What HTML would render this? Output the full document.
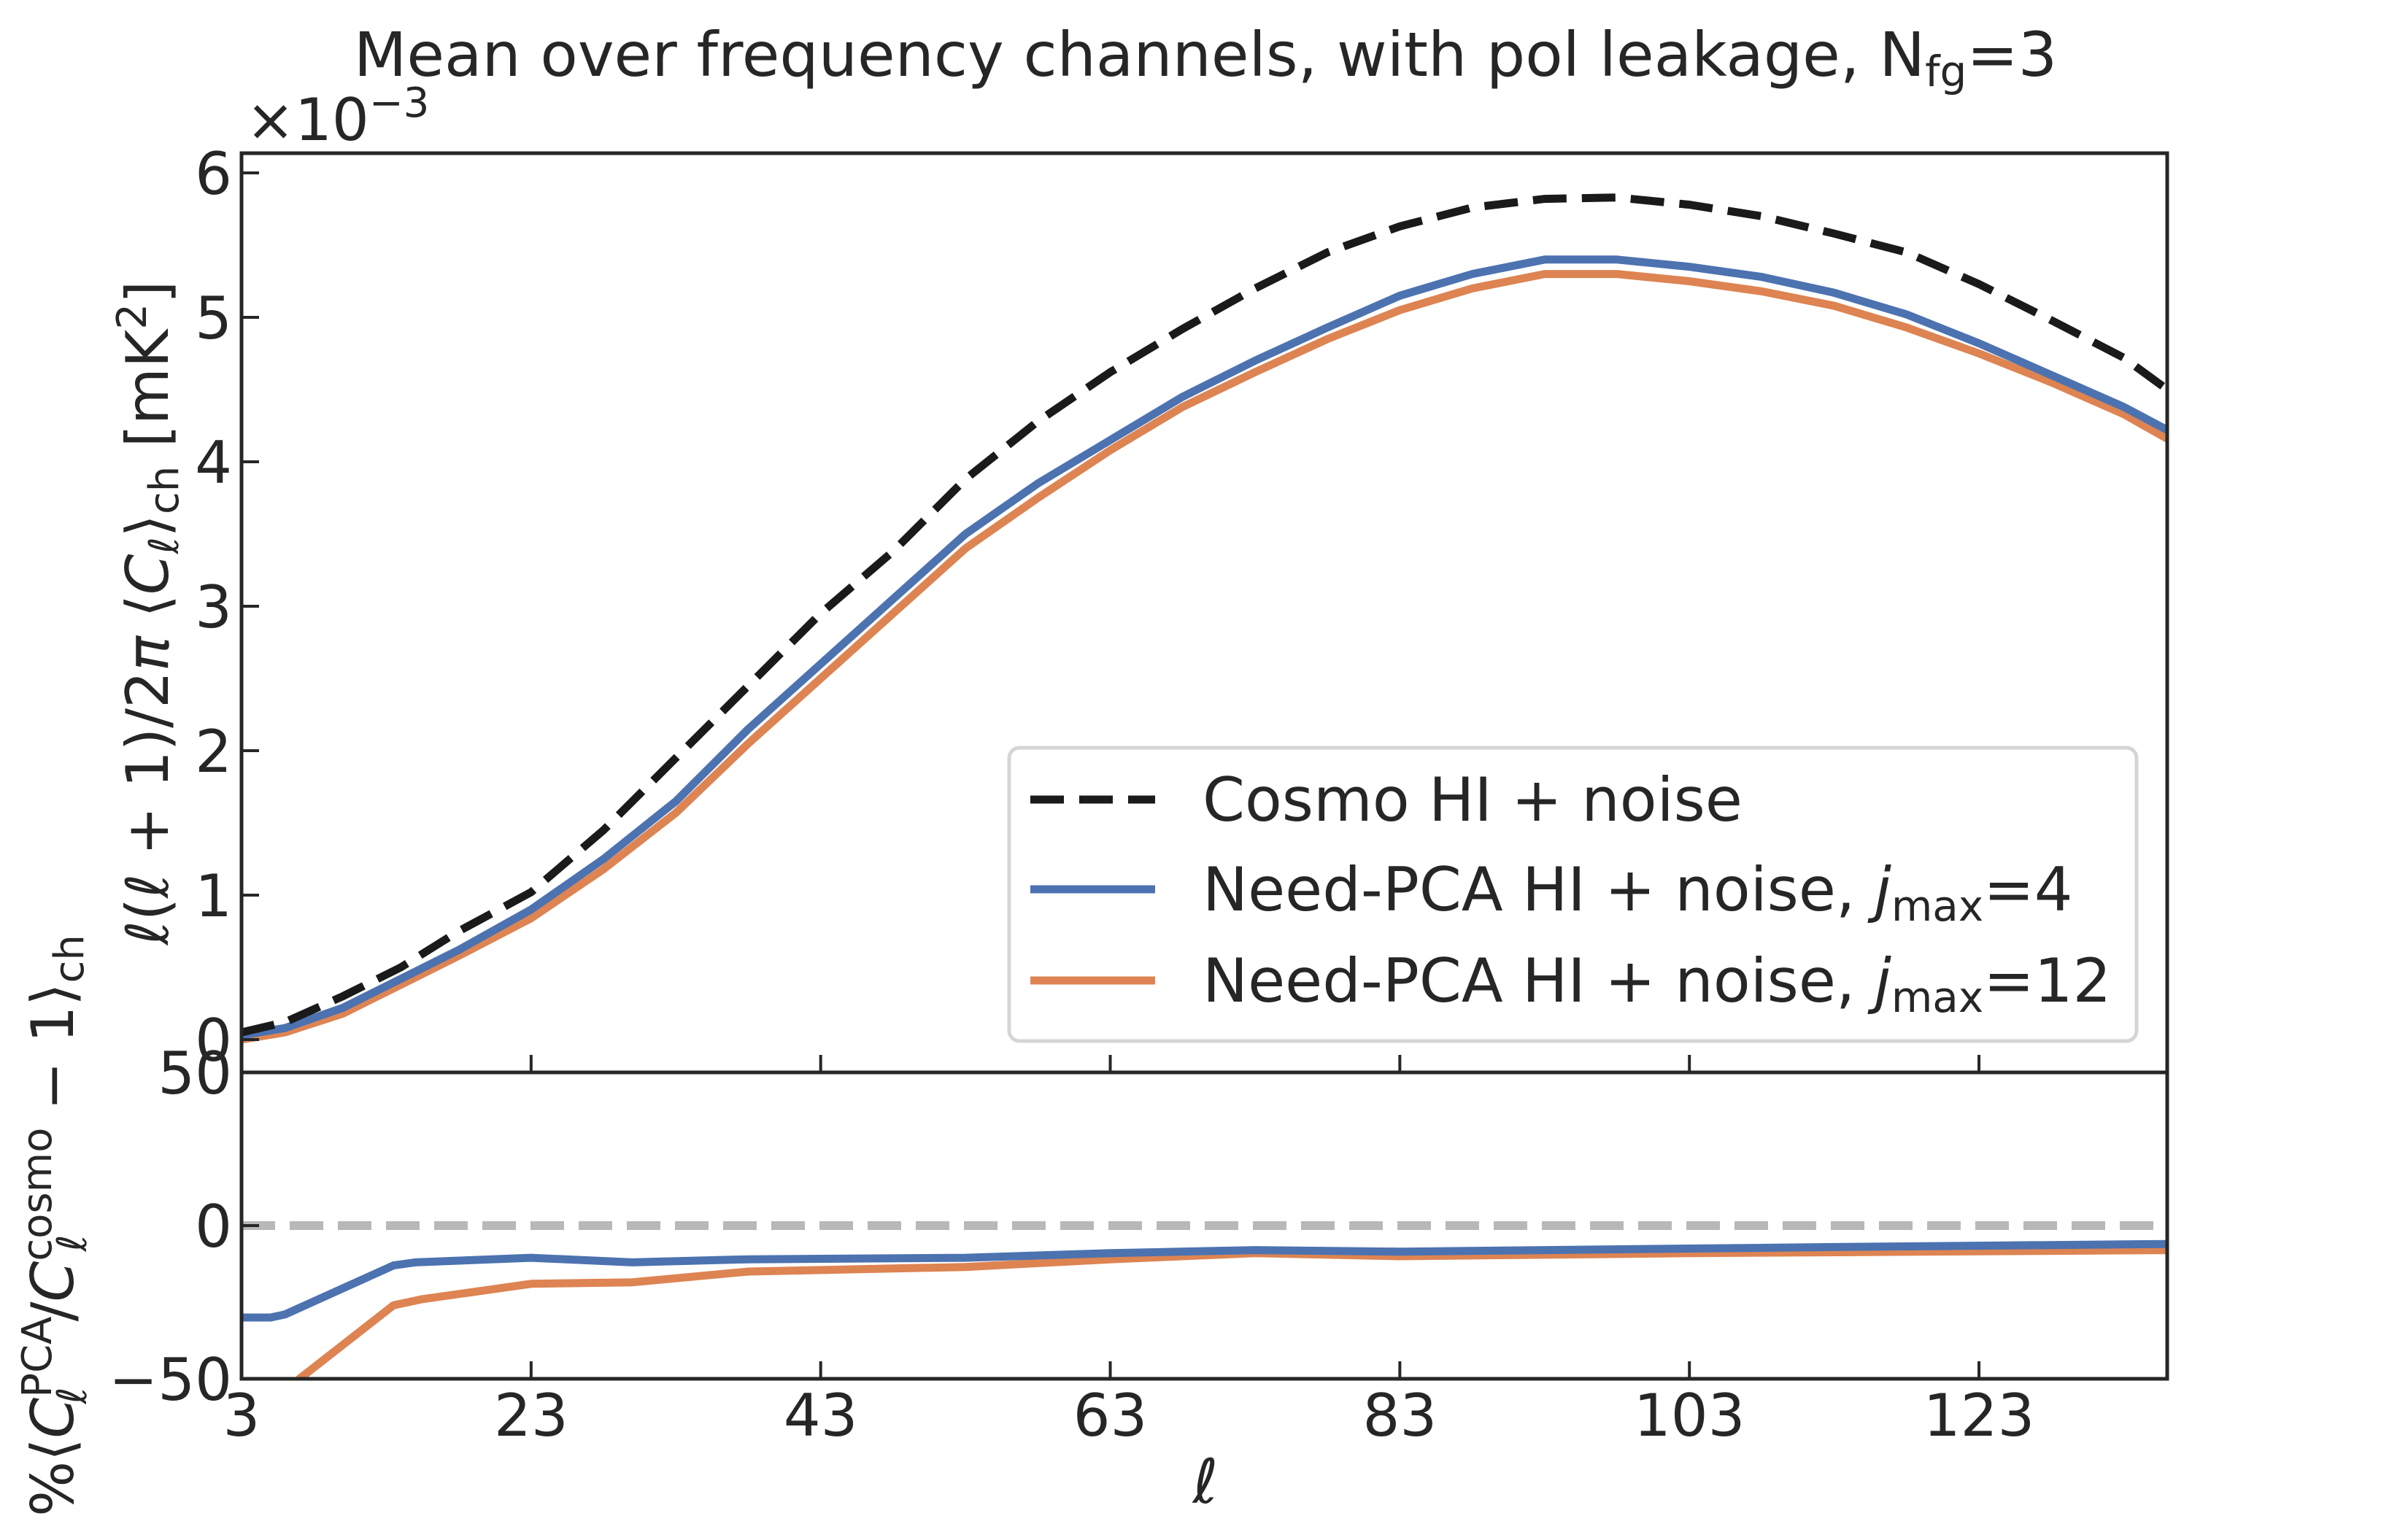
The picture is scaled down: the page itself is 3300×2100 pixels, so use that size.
<!DOCTYPE html>
<html><head><meta charset="utf-8">
<style>
html,body{margin:0;padding:0;background:#fff;}
svg{display:block;}
text{font-family:"DejaVu Sans","Liberation Sans",sans-serif;fill:#262626;}
</style></head>
<body>
<svg id="chart" width="3300" height="2100" viewBox="0 0 3300 2100" xmlns="http://www.w3.org/2000/svg">
<defs>
<clipPath id="clipTop"><rect x="331" y="210" width="2639" height="1260"/></clipPath>
<clipPath id="clipBot"><rect x="331" y="1470" width="2639" height="420"/></clipPath>
</defs>
<rect x="0" y="0" width="3300" height="2100" fill="#fff"/>
<text x="1652" y="104" font-size="84" text-anchor="middle">Mean over frequency channels, with pol leakage, N<tspan font-size="58" dy="14">fg</tspan><tspan dy="-14">=3</tspan></text>
<text x="337" y="192" font-size="80">×10<tspan font-size="56" dy="-32">−3</tspan></text>
<g id="topSeries" clip-path="url(#clipTop)"></g>
<g id="botSeries" clip-path="url(#clipBot)"></g>
<g id="axes"></g>
<text transform="translate(230,840) rotate(-90)" font-size="80" text-anchor="middle"><tspan font-style="italic">ℓ</tspan>(<tspan font-style="italic">ℓ</tspan> + 1)/2<tspan font-style="italic">π</tspan> ⟨<tspan font-style="italic">C</tspan><tspan font-size="56" dy="14" font-style="italic">ℓ</tspan><tspan dy="-14">⟩</tspan><tspan font-size="56" dy="14">ch</tspan><tspan dy="-14"> [mK</tspan><tspan font-size="56" dy="-30">2</tspan><tspan dy="30">]</tspan></text>
<text transform="translate(100,1680) rotate(-90)" font-size="80" text-anchor="middle">%⟨<tspan font-style="italic">C</tspan><tspan font-size="56" dy="-30">PCA</tspan><tspan font-size="56" dx="-120" dy="48" font-style="italic">ℓ</tspan><tspan dx="90" dy="-18">/</tspan><tspan font-style="italic">C</tspan><tspan font-size="56" dy="-30">cosmo</tspan><tspan font-size="56" dx="-170" dy="48" font-style="italic">ℓ</tspan><tspan dx="145" dy="-18"> − 1⟩</tspan><tspan font-size="56" dy="14">ch</tspan></text>
<text x="1652" y="2060" font-size="84" font-style="italic" text-anchor="middle">ℓ</text>
<g>
<rect x="1383" y="1025" width="1545" height="402" rx="14" fill="#fff" stroke="#d5d5d5" stroke-width="5"/>
<line x1="1412" y1="1096" x2="1583" y2="1096" stroke="#1a1a1a" stroke-width="11" stroke-dasharray="46,21"/>
<text x="1648" y="1125" font-size="83">Cosmo HI + noise</text>
<line x1="1412" y1="1219" x2="1583" y2="1219" stroke="#4c72b0" stroke-width="11"/>
<text x="1648" y="1248" font-size="83">Need-PCA HI + noise, <tspan font-style="italic">j</tspan><tspan font-size="58" dy="14">max</tspan><tspan dy="-14">=4</tspan></text>
<line x1="1412" y1="1344" x2="1583" y2="1344" stroke="#dd8452" stroke-width="11"/>
<text x="1648" y="1373" font-size="83">Need-PCA HI + noise, <tspan font-style="italic">j</tspan><tspan font-size="58" dy="14">max</tspan><tspan dy="-14">=12</tspan></text>
</g>
</svg>
<script>
const ellTop = [3,6,10,14,18,23,28,33,38,43,48,53,58,63,68,73,78,83,88,93,98,103,108,113,118,123,128,133,136];
const cosmoVals = [0.05,0.12,0.3,0.5,0.75,1.02,1.45,1.95,2.45,2.95,3.38,3.88,4.28,4.62,4.92,5.2,5.45,5.63,5.76,5.82,5.83,5.78,5.7,5.58,5.45,5.23,4.98,4.72,4.5];
const pca4Vals = [0.03,0.08,0.22,0.42,0.62,0.9,1.25,1.65,2.15,2.6,3.05,3.5,3.85,4.15,4.45,4.7,4.93,5.15,5.3,5.4,5.4,5.35,5.28,5.17,5.02,4.82,4.6,4.38,4.22];
const pca12Vals = [0.0,0.05,0.18,0.38,0.58,0.84,1.18,1.57,2.05,2.5,2.95,3.4,3.75,4.08,4.38,4.62,4.85,5.05,5.2,5.3,5.3,5.25,5.18,5.08,4.93,4.75,4.55,4.33,4.16];
const ellBot4 = [3,5,6,13.5,15,23,30,38,53,63,73,83,93,113,136];
const ratio4Vals = [-30,-30,-29,-13,-12,-10.5,-12,-11,-10.5,-9,-8,-8.5,-8,-7,-6];
const ellBot12 = [3,7,13.5,15.5,23,30,38,53,63,73,83,103,136];
const ratio12Vals = [-72,-50,-26,-24,-19,-18.5,-15,-13.5,-11,-9,-10,-9,-8];
const xTicks = [3,23,43,63,83,103,123];
const yTicksTop = [0,1,2,3,4,5,6];
const yTicksBot = [-50,0,50];

const X0=331,X1=2970, L0=3,L1=136;
const TT=210, TB=1470, BB=1890;
function xs(l){return X0+(l-L0)*(X1-X0)/(L1-L0);}
function yTop(v){return 1425-v*198;}
function yBot(v){return 1680-v*4.2;}
const NS='http://www.w3.org/2000/svg';
function mk(tag,attrs,parent){const e=document.createElementNS(NS,tag);for(const k in attrs)e.setAttribute(k,attrs[k]);parent.appendChild(e);return e;}
function pathD(xsArr,ys,yf){return xsArr.map((l,i)=>(i?'L':'M')+xs(l).toFixed(1)+','+yf(ys[i]).toFixed(1)).join(' ');}

const topG=document.getElementById('topSeries');
const botG=document.getElementById('botSeries');
const axesG=document.getElementById('axes');

let p=mk('path',{d:pathD(ellTop,pca12Vals,yTop),fill:'none',stroke:'#dd8452','stroke-width':11,'stroke-linejoin':'round'},topG);


p=mk('path',{d:pathD(ellTop,pca4Vals,yTop),fill:'none',stroke:'#4c72b0','stroke-width':11,'stroke-linejoin':'round'},topG);


p=mk('path',{d:pathD(ellTop,cosmoVals,yTop),fill:'none',stroke:'#1a1a1a','stroke-width':11,'stroke-dasharray':'46,21'},topG);



p=mk('line',{x1:X0,x2:X1,y1:yBot(0),y2:yBot(0),stroke:'#b8b8b8','stroke-width':12,'stroke-dasharray':'46,20'},botG);


p=mk('path',{d:pathD(ellBot12,ratio12Vals,yBot),fill:'none',stroke:'#dd8452','stroke-width':11,'stroke-linejoin':'round'},botG);


p=mk('path',{d:pathD(ellBot4,ratio4Vals,yBot),fill:'none',stroke:'#4c72b0','stroke-width':11,'stroke-linejoin':'round'},botG);



p=mk('rect',{x:X0,y:TT,width:X1-X0,height:TB-TT,fill:'none',stroke:'#262626','stroke-width':5},axesG);


p=mk('rect',{x:X0,y:TB,width:X1-X0,height:BB-TB,fill:'none',stroke:'#262626','stroke-width':5},axesG);



xTicks.forEach(t=>{
  const x=xs(t);
  let l=mk('line',{x1:x,x2:x,y1:TB,y2:TB-24,stroke:'#262626','stroke-width':4},axesG);
  
  
  l=mk('line',{x1:x,x2:x,y1:BB,y2:BB-24,stroke:'#262626','stroke-width':4},axesG);
  
  
  const tx=mk('text',{x:x,y:1968,'font-size':80,'text-anchor':'middle'},axesG);
  tx.textContent=t;
  
  
});
yTicksTop.forEach(t=>{
  const y=yTop(t);
  let l=mk('line',{x1:X0,x2:X0+24,y1:y,y2:y,stroke:'#262626','stroke-width':4},axesG);
  
  
  const tx=mk('text',{x:318,y:y+29,'font-size':80,'text-anchor':'end'},axesG);
  tx.textContent=t;
  
  
});
yTicksBot.forEach(t=>{
  const y=yBot(t);
  let l=mk('line',{x1:X0,x2:X0+24,y1:y,y2:y,stroke:'#262626','stroke-width':4},axesG);
  
  
  const tx=mk('text',{x:318,y:y+29,'font-size':80,'text-anchor':'end'},axesG);
  tx.textContent=(t<0?'−':'')+Math.abs(t);
  
  
});
</script>
</body></html>
